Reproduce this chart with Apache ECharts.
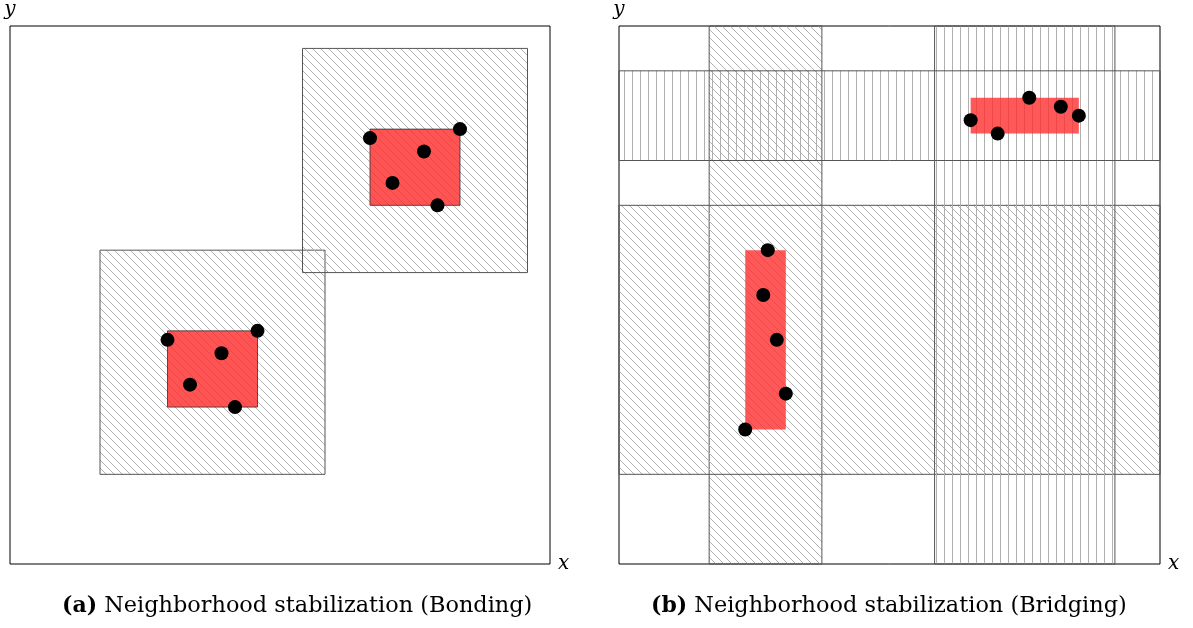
<!DOCTYPE html>
<html>
<head>
<meta charset="utf-8">
<script src="https://cdn.jsdelivr.net/npm/echarts@6/dist/echarts.min.js"></script>
<style>
  html, body { margin: 0; padding: 0; background: #fff; }
  #chart { width: 1193px; height: 628px; }
</style>
</head>
<body>
<div id="chart"></div>
<script>
// rects are [x0, x1, y0, y1] in panel units (0..12)
const leftHatchSquares = [[2, 7, 2, 7], [6.5, 11.5, 6.5, 11.5]];
const leftRed = [[3.5, 5.5, 3.5, 5.2], [8, 10, 8, 9.7]];
const leftPoints = [
  [3.5, 5.0], [5.5, 5.2], [4.7, 4.7], [4.0, 4.0], [5.0, 3.5],
  [8.0, 9.5], [10.0, 9.7], [9.2, 9.2], [8.5, 8.5], [9.5, 8.0]
];

const rightDiagBands = [[2, 4.5, 0, 12], [0, 12, 2, 8]];
const rightVertBands = [[7, 11, 0, 12], [0, 12, 9, 11]];
const rightRed = [[7.8, 10.2, 9.6, 10.4], [2.8, 3.7, 3, 7]];
const rightPoints = [
  [7.8, 9.9], [8.4, 9.6], [9.1, 10.4], [9.8, 10.2], [10.2, 10.0],
  [3.3, 7.0], [3.2, 6.0], [3.5, 5.0], [3.7, 3.8], [2.8, 3.0]
];

const captions = [
  { tag: "(a)", text: " Neighborhood stabilization (Bonding)" },
  { tag: "(b)", text: " Neighborhood stabilization (Bridging)" }
];

const SERIF = '"DejaVu Serif", "Liberation Serif", serif';

// hatch tiles
function diagTile() {
  const s = 8;
  const c = document.createElement("canvas");
  c.width = s; c.height = s;
  const g = c.getContext("2d");
  g.strokeStyle = "#b2b2b2";
  g.lineWidth = 1;
  for (let k = -1; k <= 1; k++) {
    g.beginPath();
    g.moveTo(0, k * s);
    g.lineTo(s, s + k * s);
    g.stroke();
  }
  return { image: c, repeat: "repeat" };
}
function vertTile() {
  const c = document.createElement("canvas");
  c.width = 8; c.height = 8;
  const g = c.getContext("2d");
  g.fillStyle = "#b0b0b0";
  g.fillRect(0, 0, 1, 8);
  return { image: c, repeat: "repeat" };
}
const diagFill = diagTile();
const vertFill = vertTile();

function rectSeries(name, idx, data, style, z) {
  return {
    name, type: "custom", xAxisIndex: idx, yAxisIndex: idx, z,
    silent: true, clip: false,
    encode: { x: [0, 1], y: [2, 3] },
    data,
    renderItem: (params, api) => {
      const a = api.coord([api.value(0), api.value(2)]);
      const b = api.coord([api.value(1), api.value(3)]);
      return {
        type: "rect",
        shape: {
          x: Math.min(a[0], b[0]), y: Math.min(a[1], b[1]),
          width: Math.abs(b[0] - a[0]), height: Math.abs(b[1] - a[1])
        },
        style
      };
    }
  };
}

function pointSeries(idx, data) {
  return {
    type: "scatter", xAxisIndex: idx, yAxisIndex: idx, z: 10,
    data, symbol: "circle", symbolSize: 14, silent: true,
    itemStyle: { color: "#000", opacity: 1 }
  };
}

const axisName = { fontStyle: "italic", fontFamily: SERIF, fontSize: 20, color: "#000" };

function xAx(idx) {
  return {
    gridIndex: idx, type: "value", min: 0, max: 12,
    name: "x", nameLocation: "end", nameGap: 8,
    nameTextStyle: Object.assign({ padding: [14, 0, 0, 0] }, axisName),
    axisLine: { show: false }, axisTick: { show: false },
    axisLabel: { show: false }, splitLine: { show: false }
  };
}
function yAx(idx) {
  return {
    gridIndex: idx, type: "value", min: 0, max: 12,
    name: "y", nameLocation: "end", nameGap: 6,
    nameTextStyle: Object.assign({ align: "center" }, axisName),
    axisLine: { show: false }, axisTick: { show: false },
    axisLabel: { show: false }, splitLine: { show: false }
  };
}

const chart = echarts.init(document.getElementById("chart"), null, { renderer: "canvas" });

const bandStroke = "#555";
const option = {
  backgroundColor: "#fff",
  animation: false,
  grid: [
    { left: 10, top: 24, width: 540, height: 540, show: true, borderColor: "#000", borderWidth: 1, backgroundColor: "transparent" },
    { left: 619, top: 24, width: 541, height: 540, show: true, borderColor: "#000", borderWidth: 1, backgroundColor: "transparent" }
  ],
  xAxis: [xAx(0), xAx(1)],
  yAxis: [yAx(0), yAx(1)],
  series: [
    rectSeries("hatch-a", 0, leftHatchSquares, { fill: diagFill, stroke: bandStroke, lineWidth: 1 }, 2),
    rectSeries("red-a", 0, leftRed, { fill: "#ff2e2e", opacity: 0.82, stroke: "#333", lineWidth: 1 }, 4),
    pointSeries(0, leftPoints),

    rectSeries("diag-b", 1, rightDiagBands, { fill: diagFill, stroke: bandStroke, lineWidth: 1 }, 2),
    rectSeries("vert-b", 1, rightVertBands, { fill: vertFill, stroke: bandStroke, lineWidth: 1 }, 3),
    rectSeries("red-b", 1, rightRed, { fill: "#ff2e2e", opacity: 0.8 }, 4),
    pointSeries(1, rightPoints)
  ],
  graphic: captions.map((c, i) => ({
    type: "text",
    left: i === 0 ? 62 : 651,
    top: 595,
    style: {
      text: "{b|" + c.tag + "}{n|" + c.text + "}",
      rich: {
        b: { font: "bold 22px " + SERIF, fill: "#000" },
        n: { font: "22.4px " + SERIF, fill: "#000" }
      }
    }
  }))
};

chart.setOption(option);
</script>
</body>
</html>
